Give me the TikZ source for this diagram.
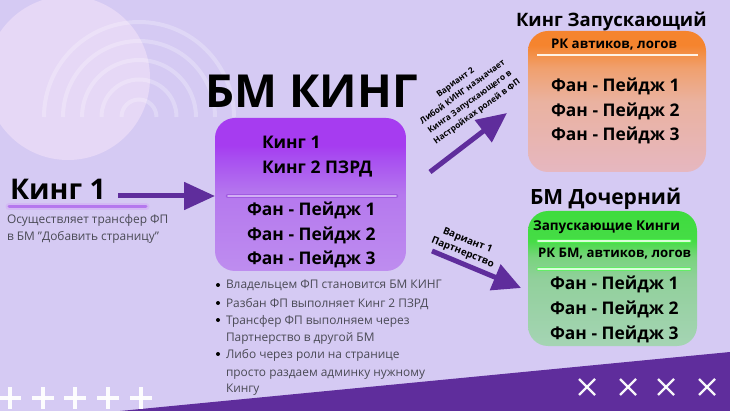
\documentclass[tikz,border=0pt]{standalone}
\usepackage{fontspec}
\setmainfont{Open Sans}
\usetikzlibrary{arrows.meta}
\definecolor{bgc}{HTML}{D5CAF3}
\definecolor{circc}{HTML}{E6D8F6}
\definecolor{deep}{HTML}{5F2D9C}
\definecolor{txtg}{HTML}{4A4A55}
\definecolor{pa}{HTML}{BE8DEF}
\definecolor{pb}{HTML}{B578EE}
\definecolor{pc}{HTML}{A84EF0}
\definecolor{pd}{HTML}{A63CF0}
\definecolor{oa}{HTML}{E6B7C0}
\definecolor{ob}{HTML}{EAB2A0}
\definecolor{oc}{HTML}{F0A06E}
\definecolor{od}{HTML}{F5842E}
\definecolor{ga}{HTML}{A5D4B4}
\definecolor{gb}{HTML}{91D09B}
\definecolor{gc}{HTML}{78D47D}
\definecolor{gd}{HTML}{46DC46}
\definecolor{ge}{HTML}{3EDC3E}
\pgfdeclareverticalshading{purplegrad}{100bp}{
 color(0bp)=(pa);
 color(25bp)=(pa);
 color(50bp)=(pb);
 color(62bp)=(pc);
 color(66bp)=(pd);
 color(75bp)=(pd);
 color(100bp)=(pd)}
\pgfdeclareverticalshading{orangegrad}{100bp}{
 color(0bp)=(oa);
 color(25bp)=(oa);
 color(50bp)=(ob);
 color(62bp)=(oc);
 color(70bp)=(od);
 color(75bp)=(od);
 color(100bp)=(od)}
\pgfdeclareverticalshading{greengrad}{100bp}{
 color(0bp)=(ga);
 color(25bp)=(ga);
 color(50bp)=(gb);
 color(58bp)=(gc);
 color(64bp)=(gd);
 color(75bp)=(ge);
 color(100bp)=(ge)}
\tikzset{
 every node/.style={inner sep=0pt,outer sep=0pt,text=black},
 box/.style={rounded corners=20pt,minimum width=#1},
 head/.style={anchor=base west,font=\bfseries\fontsize{#1}{#1}\selectfont},
 plain/.style={anchor=base west,text=txtg,font=\fontsize{11.9}{11.9}\selectfont},
 arrowline/.style={draw=deep,line width=5pt,-{Triangle[length=#1,width=27pt,fill=deep]}},
 ringarc/.style={draw=white,draw opacity=.25,line width=4pt},
 plusbar/.style={draw=white,line width=3.5pt,opacity=.95},
 xbar/.style={draw=white,line width=2.4pt,opacity=.95},
}
\begin{document}
\begin{tikzpicture}[x=1pt,y=-1pt]
\useasboundingbox (0,0) rectangle (730,411);
\fill[bgc] (0,0) rectangle (730,411);
\fill[circc] (68,78) circle (82pt);
\foreach \r in {17.5,37.5,57,76,95}
  \draw[ringarc] ({139-\r},117) arc[start angle=180,end angle=0,radius=\r pt];
\fill[deep] (120,411) -- (730,352) -- (730,411) -- cycle;
\foreach \x in {10,43,75,108,141}{
  \draw[plusbar] (\x-11,398) -- (\x+11,398);
  \draw[plusbar] (\x,387) -- (\x,409);}
\foreach \x in {587,628,666,707}{
  \draw[xbar] (\x-8,387-8) -- (\x+8,387+8);
  \draw[xbar] (\x-8,387+8) -- (\x+8,387-8);}
% boxes
\node[box=191pt,minimum height=153pt,shading=purplegrad] (bm) at (310.5,194.5) {};
\node[box=178pt,minimum height=141pt,shading=orangegrad] (launch) at (617,101.5) {};
\node[box=169pt,minimum height=135pt,shading=greengrad] (child) at (612.5,278.5) {};
% separators
\draw[draw=pc!70!deep,line width=4.5pt,line cap=round,opacity=.55] (228,196) -- (396,196);
\draw[draw=pa!70!white,line width=1.8pt,line cap=round] (228,196) -- (396,196);
\draw[draw=white!90!orange,line width=2pt] (537,55) -- (698,55);
\foreach \y in {241,269}{
  \draw[draw=green!70!white,line width=3.5pt,line cap=round,opacity=.6] (538,\y) -- (690,\y);
  \draw[draw=white!85!green,line width=1.6pt,line cap=round] (538,\y) -- (690,\y);}
\draw[draw=pb!60!white,line width=7pt,line cap=round,opacity=.6] (9,207) -- (146,207);
\draw[draw=pb,line width=3pt,line cap=round] (9,207) -- (146,207);
% titles
\node[head=45.5] (title) at (205.5,108) {БМ КИНГ};
\node[head=28.5] (kone) at (10,200) {Кинг 1};
\node[plain] (sub1) at (7,224) {Осуществляет трансфер ФП};
\node[plain] (sub2) at (7,241) {в БМ "Добавить страницу"};
% BM box
\node[head=17.4] (b1) at (262,149) {Кинг 1};
\node[head=17.4] (b2) at (262,174) {Кинг 2 ПЗРД};
\node[head=17.4] (b3) at (247,216) {Фан - Пейдж 1};
\node[head=17.4] (b4) at (247,241) {Фан - Пейдж 2};
\node[head=17.4] (b5) at (247,265) {Фан - Пейдж 3};
% launching
\node[head=18.5] (lt) at (516,27) {Кинг Запускающий};
\node[head=13.3] (l0) at (551,49) {РК автиков, логов};
\node[head=17.4] (l1) at (551,92) {Фан - Пейдж 1};
\node[head=17.4] (l2) at (551,116.5) {Фан - Пейдж 2};
\node[head=17.4] (l3) at (551,141) {Фан - Пейдж 3};
% child
\node[head=21] (ct) at (530,205) {БМ Дочерний};
\node[head=13.5] (c0) at (533,231) {Запускающие Кинги};
\node[head=13.2] (c00) at (538,258) {РК БМ, автиков, логов};
\node[head=17.4] (c1) at (550,290) {Фан - Пейдж 1};
\node[head=17.4] (c2) at (550,314) {Фан - Пейдж 2};
\node[head=17.4] (c3) at (550,339) {Фан - Пейдж 3};
% bullets
\foreach \y in {289,307,324,358}
  \fill[black] (218,\y-4) circle (2pt);
\node[plain] (n4) at (226,289) {Владельцем ФП становится БМ КИНГ};
\node[plain] (n5) at (226,307) {Разбан ФП выполняет Кинг 2 ПЗРД};
\node[plain] (n6) at (226,324) {Трансфер ФП выполняем через};
\node[plain] (n1) at (226,341) {Партнерство в другой БМ};
\node[plain] (n7) at (226,358) {Либо через роли на странице};
\node[plain] (n2) at (226,376) {просто раздаем админку нужному};
\node[plain] (n3) at (226,392) {Кингу};
% arrows
\coordinate (a0) at (118,196);
\draw[arrowline=31pt] (a0) -- (bm.west |- a0);
\coordinate (a1s) at (430,172);
\coordinate (a1e) at (507,113);
\draw[arrowline=30pt] (a1s) -- (a1e);
\coordinate (a2s) at (432,251);
\coordinate (a2e) at (521,288);
\draw[arrowline=28pt] (a2s) -- (a2e);
\node[rotate=36,align=center,font=\bfseries\fontsize{8.4}{12.2}\selectfont] (v2) at (466.5,97.5) {Вариант 2\\Либой КИНГ назначает\\Кинга Запускающего в\\Настройках ролей в ФП};
\node[rotate=-22,align=center,font=\bfseries\fontsize{9.9}{12.8}\selectfont] (v1) at (465,247) {Вариант 1\\Партнерство};
\end{tikzpicture}
\end{document}
